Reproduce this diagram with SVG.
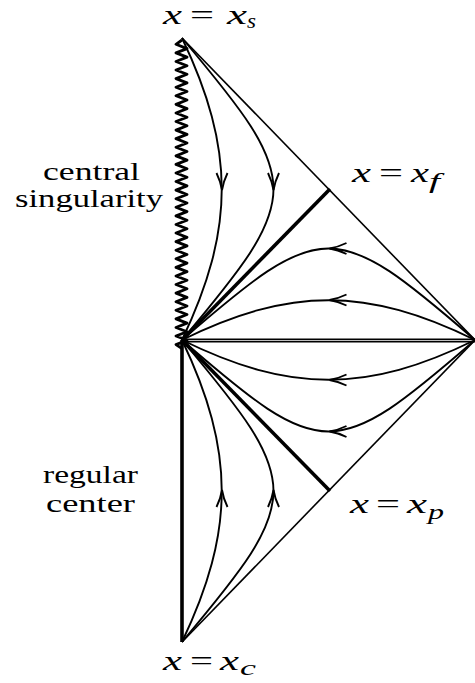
<svg xmlns="http://www.w3.org/2000/svg" xmlns:xlink="http://www.w3.org/1999/xlink" width="475" height="683" viewBox="0 0 475 683">
<style>
.thin{fill:none;stroke:#000;stroke-width:1.6}
.traj{fill:none;stroke:#000;stroke-width:1.9}
.thick{fill:none;stroke:#000;stroke-width:3.6}
.zig{fill:none;stroke:#000;stroke-width:2.8;stroke-linejoin:round}
.ah{fill:none;stroke:#000;stroke-width:1.9;stroke-linejoin:miter}
.lbl{font-family:'Times New Roman','Liberation Serif',Tinos,'DejaVu Serif','Noto Serif',FreeSerif,serif;fill:#000}
</style>
<defs>
<path id="ah" d="M-17,-5.5 Q-8,-1.2 0,0 Q-8,1.2 -17,5.5"/>
</defs>
<rect width="475" height="683" fill="#fff"/>
<g id="boundary">
<path id="singularity" class="zig" d="M182,40 l-6,4.29 l11,4.29 l-11,4.29 l11,4.29 l-11,4.29 l11,4.29 l-11,4.29 l11,4.29 l-11,4.29 l11,4.29 l-11,4.29 l11,4.29 l-11,4.29 l11,4.29 l-11,4.29 l11,4.29 l-11,4.29 l11,4.29 l-11,4.29 l11,4.29 l-11,4.29 l11,4.29 l-11,4.29 l11,4.29 l-11,4.29 l11,4.29 l-11,4.29 l11,4.29 l-11,4.29 l11,4.29 l-11,4.29 l11,4.29 l-11,4.29 l11,4.29 l-11,4.29 l11,4.29 l-11,4.29 l11,4.29 l-11,4.29 l11,4.29 l-11,4.29 l11,4.29 l-11,4.29 l11,4.29 l-11,4.29 l11,4.29 l-11,4.29 l11,4.29 l-11,4.29 l11,4.29 l-11,4.29 l11,4.29 l-11,4.29 l11,4.29 l-11,4.29 l11,4.29 l-11,4.29 l11,4.29 l-11,4.29 l11,4.29 l-11,4.29 l11,4.29 l-11,4.29 l11,4.29 l-11,4.29 l11,4.29 l-11,4.29 l11,4.29 l-11,4.29 l11,4.29 l-11,4.29 l6,4"/>
<line id="regular-center" class="thick" x1="182" y1="340" x2="182" y2="642"/>
<line class="thin" x1="182" y1="38" x2="475" y2="340"/>
<line class="thin" x1="182" y1="642" x2="475" y2="340"/>
<line class="thin" x1="182" y1="339.2" x2="476" y2="339.2"/>
<line class="thin" x1="182" y1="341.6" x2="476" y2="341.6"/>
<line class="thick" x1="182" y1="340" x2="330" y2="189"/>
<line class="thick" x1="182" y1="340" x2="330" y2="491"/>
</g>
<g id="connectors">
<path class="traj" d="M182,38 C235,149 235,229 182,340"/>
<path class="traj" d="M182,38 C304,183 304,195 182,340"/>
<path class="traj" d="M182,642 C235,531 235,451 182,340"/>
<path class="traj" d="M182,642 C304,497 304,485 182,340"/>
<path class="traj" d="M475,340 C367.3,287 289.7,287 182,340"/>
<path class="traj" d="M475,340 C334.3,218 322.7,218 182,340"/>
<path class="traj" d="M475,340 C367.3,393 289.7,393 182,340"/>
<path class="traj" d="M475,340 C334.3,462 322.7,462 182,340"/>
<use xlink:href="#ah" class="ah" transform="translate(222,190) rotate(90)"/>
<use xlink:href="#ah" class="ah" transform="translate(273.5,190) rotate(90)"/>
<use xlink:href="#ah" class="ah" transform="translate(222,490) rotate(-90)"/>
<use xlink:href="#ah" class="ah" transform="translate(273.5,490) rotate(-90)"/>
<use xlink:href="#ah" class="ah" transform="translate(329.5,300) rotate(180)"/>
<use xlink:href="#ah" class="ah" transform="translate(329.5,248.5) rotate(180)"/>
<use xlink:href="#ah" class="ah" transform="translate(329.5,380) rotate(180)"/>
<use xlink:href="#ah" class="ah" transform="translate(329.5,431.5) rotate(180)"/>
</g>
<g class="lbl">
<g id="label-xs" font-style="italic" font-size="28">
<text x="163" y="24" textLength="19" lengthAdjust="spacingAndGlyphs">x</text>
<text x="190" y="24" font-style="normal" textLength="24" lengthAdjust="spacingAndGlyphs">=</text>
<text x="227" y="24" textLength="20" lengthAdjust="spacingAndGlyphs">x</text>
<text x="247" y="28" font-size="20" textLength="9" lengthAdjust="spacingAndGlyphs">s</text>
</g>
<g id="label-xf" font-style="italic" font-size="28">
<text x="352" y="182" textLength="19" lengthAdjust="spacingAndGlyphs">x</text>
<text x="379" y="182" font-style="normal" textLength="24" lengthAdjust="spacingAndGlyphs">=</text>
<text x="411" y="182" textLength="18" lengthAdjust="spacingAndGlyphs">x</text>
<text x="429" y="188" font-size="20" textLength="11" lengthAdjust="spacingAndGlyphs">f</text>
</g>
<g id="label-xp" font-style="italic" font-size="28">
<text x="350" y="513" textLength="19" lengthAdjust="spacingAndGlyphs">x</text>
<text x="376" y="513" font-style="normal" textLength="24" lengthAdjust="spacingAndGlyphs">=</text>
<text x="407" y="513" textLength="20" lengthAdjust="spacingAndGlyphs">x</text>
<text x="428" y="519" font-size="20" textLength="16" lengthAdjust="spacingAndGlyphs">p</text>
</g>
<g id="label-xc" font-style="italic" font-size="28">
<text x="163" y="670" textLength="19" lengthAdjust="spacingAndGlyphs">x</text>
<text x="190" y="670" font-style="normal" textLength="23" lengthAdjust="spacingAndGlyphs">=</text>
<text x="220" y="670" textLength="19" lengthAdjust="spacingAndGlyphs">x</text>
<text x="240" y="675" font-size="20" textLength="16" lengthAdjust="spacingAndGlyphs">c</text>
</g>
<g id="label-singularity" font-size="26">
<text x="43" y="180" textLength="97" lengthAdjust="spacingAndGlyphs">central</text>
<text x="15" y="207" textLength="148" lengthAdjust="spacingAndGlyphs">singularity</text>
</g>
<g id="label-center" font-size="26">
<text x="43" y="483" textLength="95" lengthAdjust="spacingAndGlyphs">regular</text>
<text x="46" y="512" textLength="89" lengthAdjust="spacingAndGlyphs">center</text>
</g>
</g>
</svg>
